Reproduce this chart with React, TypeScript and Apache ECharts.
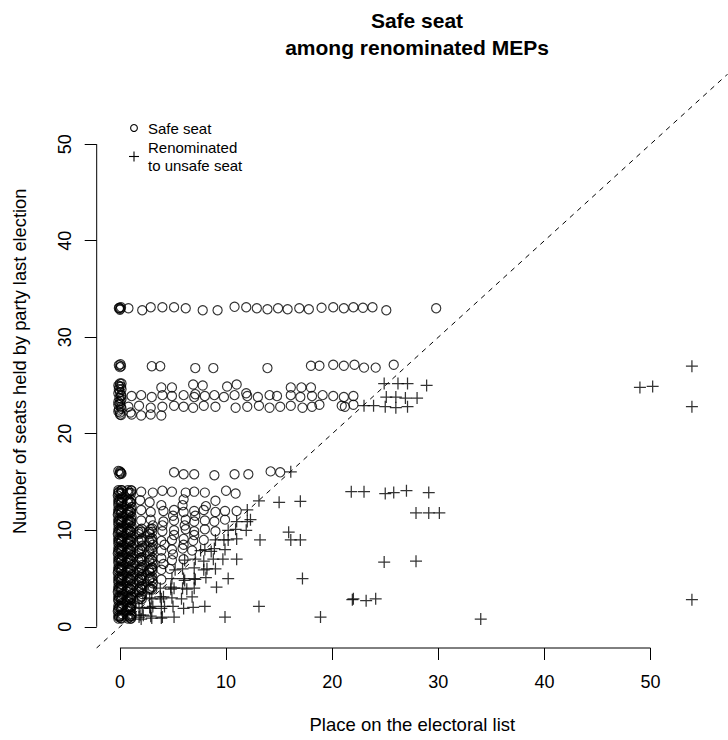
import React, { useEffect, useRef } from "react";
import * as echarts from "echarts";

// Axis ranges (R-style 4% padding around the data) and tick positions
const X_MIN = -2.19;
const X_MAX = 57.3;
const Y_MIN = -2.2;
const Y_MAX = 57.2;
const xTicks = [0, 10, 20, 30, 40, 50];
const yTicks = [0, 10, 20, 30, 40, 50];

const titleLines = ["Safe seat", "among renominated MEPs"];
const xTitle = "Place on the electoral list";
const yTitle = "Number of seats held by party last election";
const legendSafe = "Safe seat";
const legendUnsafe = ["Renominated", "to unsafe seat"];

// Safe seats: [place on list, seats held last election]
const safeRow33 = [
  [-0.1, 33.0], [0.0, 32.85], [0.1, 33.1], [0.05, 32.95], [-0.05, 33.05],
  [0.8, 33.0], [2.1, 32.8], [2.9, 33.1], [4.0, 33.1], [5.1, 33.1], [6.2, 33.0],
  [7.8, 32.8], [9.2, 32.8], [10.8, 33.15], [11.9, 33.1], [12.9, 33.0], [13.9, 32.9],
  [14.9, 33.0], [15.8, 32.9], [16.9, 33.0], [17.8, 32.9], [19.0, 33.05], [20.1, 33.1],
  [21.1, 33.0], [22.0, 33.1], [22.9, 33.05], [23.8, 33.1], [25.1, 32.8], [29.8, 33.0],
];

const safeRow27 = [
  [-0.1, 27.1], [0.0, 26.9], [0.1, 27.0], [0.05, 27.2], [3.0, 27.0], [3.8, 27.0],
  [7.1, 26.8], [8.8, 26.8], [13.9, 26.8], [18.0, 27.05], [18.8, 27.05], [20.1, 27.15],
  [21.1, 27.05], [22.1, 27.15], [23.0, 26.85], [24.1, 26.85], [25.8, 27.15],
];

const safeBand = [
  [0.0, 25.2], [0.1, 24.9], [-0.1, 24.6], [0.0, 24.3], [0.1, 24.0], [-0.05, 23.7],
  [0.05, 23.4], [0.0, 23.1], [0.1, 22.8], [-0.1, 22.5], [0.0, 22.2], [0.1, 21.95],
  [0.0, 22.0], [-0.05, 24.9], [0.15, 23.6], [-0.15, 23.0],
  [-0.15, 22.3], [0.15, 22.6], [-0.15, 23.3], [0.15, 23.9], [-0.15, 24.2], [0.15, 24.6],
  [-0.15, 25.0], [0.15, 25.2],
  [3.9, 24.8], [4.9, 24.8], [6.9, 25.1], [7.8, 25.0], [10.1, 24.9], [11.0, 25.1],
  [16.1, 24.8], [17.1, 24.8], [18.0, 24.8],
  [1.1, 23.9], [2.0, 24.0], [3.0, 23.8], [4.0, 24.0], [4.9, 23.9], [6.0, 24.0],
  [7.0, 23.8], [7.1, 24.1], [8.0, 23.9], [8.9, 24.0], [9.8, 23.8], [10.8, 24.0],
  [12.0, 23.9], [11.9, 24.2], [13.0, 23.8], [14.1, 24.0], [14.8, 23.9], [16.1, 24.0],
  [17.0, 23.8], [18.1, 23.9], [19.1, 24.0], [20.1, 23.9], [21.1, 23.8], [22.0, 23.9],
  [0.8, 22.8], [1.8, 22.9], [2.9, 22.7], [4.0, 22.8], [5.1, 22.9], [6.0, 22.8],
  [6.9, 22.7], [7.9, 22.9], [9.0, 22.8], [10.9, 22.7], [12.0, 22.8], [13.1, 22.9],
  [14.1, 22.7], [15.1, 22.8], [16.1, 22.9], [17.2, 22.7], [18.1, 22.8], [18.8, 23.0],
  [20.9, 22.9], [21.2, 22.8], [22.0, 23.0],
  [1.1, 22.0], [2.0, 21.9], [2.9, 22.0], [3.9, 21.9], [1.0, 22.2],
];

const safeRow16 = [
  [0.0, 16.1], [0.1, 15.9], [-0.05, 15.8], [0.05, 16.0], [-0.15, 16.15], [0.15, 15.85],
  [5.1, 16.0], [6.0, 15.8], [7.0, 15.8], [8.9, 15.7], [10.8, 15.8], [12.1, 15.8],
  [14.2, 16.1], [15.1, 16.0],
];

const safeLow = [
  [-0.1, 14.0], [0.05, 13.8], [0.15, 14.15], [0.9, 13.9], [1.1, 14.1], [2.0, 14.0],
  [3.1, 13.9], [4.0, 14.1], [4.9, 14.0], [6.2, 13.9], [7.0, 14.0], [8.0, 13.9],
  [10.0, 14.1], [10.9, 13.8],
  [-0.1, 13.0], [0.1, 12.9], [0.0, 13.15], [0.9, 13.0], [1.0, 12.85], [1.9, 13.1],
  [2.8, 12.9], [6.0, 13.2], [9.0, 13.05],
  [-0.1, 12.0], [0.1, 11.85], [0.0, 12.15], [0.9, 12.0], [1.0, 11.9], [2.0, 12.1],
  [2.9, 11.9], [4.1, 12.0], [5.1, 12.1], [6.0, 11.9], [7.0, 12.0], [7.9, 12.1],
  [9.0, 11.9], [9.9, 12.0], [11.0, 12.0],
  [-0.1, 11.0], [0.1, 10.9], [0.0, 11.1], [0.9, 11.0], [1.0, 10.85], [2.0, 11.0],
  [2.9, 11.1], [4.1, 10.9], [5.1, 11.0], [6.2, 11.1], [7.0, 10.9], [8.0, 11.0],
  [8.9, 10.9], [9.9, 11.1],
  [-0.1, 10.0], [0.1, 9.9], [0.0, 10.1], [0.9, 10.0], [1.0, 9.85], [1.9, 10.0],
  [2.9, 10.1], [4.0, 9.9], [5.1, 10.0], [6.2, 10.1], [7.0, 9.9], [8.0, 10.1], [9.0, 9.9],
  [-0.1, 9.0], [0.1, 8.9], [0.0, 9.1], [0.9, 9.0], [1.0, 8.85], [2.0, 9.0],
  [2.9, 9.1], [3.9, 8.9], [4.9, 9.0], [6.0, 9.1], [6.9, 8.9], [7.9, 9.0],
  [-0.1, 8.0], [0.1, 7.9], [0.0, 8.1], [0.9, 8.0], [1.0, 7.85], [1.9, 8.0],
  [2.9, 8.1], [3.9, 7.9], [4.9, 8.0], [5.9, 8.1], [6.8, 7.9],
  [-0.1, 7.0], [0.1, 6.9], [0.0, 7.1], [0.9, 7.0], [1.0, 6.85], [1.9, 7.1],
  [2.0, 6.9], [2.9, 7.0], [3.9, 7.1], [4.9, 6.9], [6.0, 7.0],
  [-0.1, 6.0], [0.1, 5.9], [0.0, 6.1], [0.9, 6.0], [1.0, 5.85], [2.0, 6.1],
  [1.9, 5.9], [2.9, 6.0], [3.0, 6.1], [3.9, 5.9], [4.7, 6.0],
  [-0.1, 5.0], [0.1, 4.9], [0.0, 5.1], [0.9, 5.0], [1.0, 4.85], [1.9, 5.1],
  [2.0, 4.9], [2.8, 5.0], [2.9, 5.1], [3.9, 4.9],
  [-0.1, 4.0], [0.1, 3.9], [0.0, 4.1], [0.9, 4.0], [1.0, 3.85], [1.9, 4.1],
  [2.0, 3.9], [2.8, 4.0], [2.9, 3.9],
  [-0.1, 3.0], [0.1, 2.9], [0.0, 3.1], [0.9, 3.0], [1.0, 2.85], [1.1, 3.1],
  [1.9, 2.9], [2.0, 3.1],
  [-0.1, 2.0], [0.1, 1.9], [0.0, 2.1], [0.9, 2.0], [1.0, 1.85], [1.1, 2.1], [0.95, 2.05],
  [-0.1, 1.0], [0.1, 0.9], [0.0, 1.1], [0.9, 1.0], [1.0, 0.85], [1.1, 1.1],
];

// Further safe seats piled up in the first few list places
const safeLowPile = [
  [0.2, 1.3], [-0.2, 1.6], [0.15, 2.4], [-0.15, 2.7], [0.2, 3.4], [-0.2, 3.6],
  [0.1, 4.4], [-0.15, 4.6], [0.2, 5.4], [-0.2, 5.6], [0.15, 6.4], [-0.15, 6.6],
  [0.2, 7.4], [-0.2, 7.6], [0.15, 8.4], [-0.15, 8.6], [0.2, 9.4], [-0.2, 9.6],
  [0.15, 10.4], [-0.15, 10.6], [0.2, 11.4], [-0.2, 11.6], [0.15, 12.4], [-0.15, 12.6],
  [0.2, 13.4], [-0.2, 13.6],
  [1.1, 1.3], [0.8, 1.6], [1.1, 2.4], [0.8, 2.6], [1.1, 3.4], [0.8, 3.6], [1.1, 4.4],
  [0.8, 4.6], [1.1, 5.4], [0.8, 5.6], [1.1, 6.4], [0.8, 6.6], [1.1, 7.4], [0.8, 7.6],
  [1.1, 8.4], [0.8, 8.6], [1.1, 9.4], [0.8, 9.6], [1.1, 10.4], [0.8, 10.6], [1.1, 11.4],
  [0.8, 11.6], [1.1, 12.4],
  [2.1, 3.4], [1.8, 3.6], [2.1, 4.4], [1.8, 4.6], [2.1, 5.4], [1.8, 5.6], [2.1, 6.4],
  [1.8, 7.6], [2.1, 8.4], [1.8, 9.6],
  [3.1, 4.5], [2.8, 5.6], [3.1, 6.5], [2.8, 7.5], [3.1, 8.5], [2.8, 9.6], [3.1, 10.5],
  [4.1, 6.5], [5.0, 7.5], [4.2, 8.5], [5.1, 9.5], [6.1, 10.5], [4.0, 10.5], [5.0, 11.5],
  [7.1, 11.5], [3.9, 12.6], [8.1, 12.5], [6.0, 8.5], [7.0, 9.5], [5.9, 12.6],
];

// Many MEPs share the top list places, so these positions are heavily overplotted
const safeTopPlaces = [
  [-0.15, 0.85], [0.15, 0.85], [-0.15, 1.15], [0.15, 1.15], [0.75, 0.85], [1.05, 0.85], [0.75, 1.15], [1.05, 1.15],
  [-0.15, 1.85], [0.15, 1.85], [-0.15, 2.15], [0.15, 2.15], [0.75, 1.85], [1.05, 1.85], [0.75, 2.15], [1.05, 2.15],
  [-0.15, 2.85], [0.15, 2.85], [-0.15, 3.15], [0.15, 3.15], [0.75, 2.85], [1.05, 2.85], [0.75, 3.15], [1.05, 3.15],
  [1.75, 2.85], [2.05, 3.15], [2.05, 2.85],
  [-0.15, 3.85], [0.15, 3.85], [-0.15, 4.15], [0.15, 4.15], [0.75, 3.85], [1.05, 3.85], [0.75, 4.15], [1.05, 4.15],
  [1.75, 3.85], [2.05, 4.15], [2.05, 3.85], [2.75, 3.85], [3.05, 4.15], [3.05, 3.85],
  [-0.15, 4.85], [0.15, 4.85], [-0.15, 5.15], [0.15, 5.15], [0.75, 4.85], [1.05, 4.85], [0.75, 5.15], [1.05, 5.15],
  [1.75, 4.85], [2.05, 5.15], [2.05, 4.85], [2.75, 4.85], [3.05, 5.15], [3.05, 4.85],
  [-0.15, 5.85], [0.15, 5.85], [-0.15, 6.15], [0.15, 6.15], [0.75, 5.85], [1.05, 5.85], [0.75, 6.15], [1.05, 6.15],
  [1.75, 5.85], [2.05, 6.15], [2.05, 5.85], [2.75, 5.85], [3.05, 6.15], [3.05, 5.85],
  [-0.15, 6.85], [0.15, 6.85], [-0.15, 7.15], [0.15, 7.15], [0.75, 6.85], [1.05, 6.85], [0.75, 7.15], [1.05, 7.15],
  [1.75, 6.85], [2.05, 7.15], [2.05, 6.85], [2.75, 6.85], [3.05, 7.15], [3.05, 6.85],
  [-0.15, 7.85], [0.15, 7.85], [-0.15, 8.15], [0.15, 8.15], [0.75, 7.85], [1.05, 7.85], [0.75, 8.15], [1.05, 8.15],
  [1.75, 7.85], [2.05, 8.15], [2.05, 7.85], [2.75, 7.85], [3.05, 8.15], [3.05, 7.85],
  [-0.15, 8.85], [0.15, 8.85], [-0.15, 9.15], [0.15, 9.15], [0.75, 8.85], [1.05, 8.85], [0.75, 9.15], [1.05, 9.15],
  [1.75, 8.85], [2.05, 9.15], [2.05, 8.85], [2.75, 8.85], [3.05, 9.15], [3.05, 8.85],
  [-0.15, 9.85], [0.15, 9.85], [-0.15, 10.15], [0.15, 10.15], [0.75, 9.85], [1.05, 9.85], [0.75, 10.15], [1.05, 10.15],
  [1.75, 9.85], [2.05, 10.15], [2.05, 9.85], [2.75, 9.85], [3.05, 10.15], [3.05, 9.85],
  [-0.15, 10.85], [0.15, 10.85], [-0.15, 11.15], [0.15, 11.15], [0.75, 10.85], [1.05, 10.85], [0.75, 11.15], [1.05, 11.15],
  [-0.15, 11.85], [0.15, 11.85], [-0.15, 12.15], [0.15, 12.15], [0.75, 11.85], [1.05, 11.85], [0.75, 12.15], [1.05, 12.15],
  [-0.15, 12.85], [0.15, 12.85], [-0.15, 13.15], [0.15, 13.15], [0.75, 12.85], [1.05, 12.85], [0.75, 13.15], [1.05, 13.15],
  [-0.15, 13.85], [0.15, 13.85], [-0.15, 14.15], [0.15, 14.15], [0.75, 13.85], [1.05, 13.85], [0.75, 14.15], [1.05, 14.15],
];

// Renominated to an unsafe seat
const unsafeBand = [
  [24.9, 25.2], [26.2, 25.2], [27.1, 25.2], [28.9, 25.0],
  [25.1, 23.8], [26.0, 23.8], [26.9, 23.7], [28.0, 23.7],
  [23.0, 22.9], [23.9, 22.9], [25.0, 22.8], [26.0, 22.7], [27.1, 22.8],
];

const unsafeMid = [
  [16.1, 16.05], [21.8, 14.0], [23.0, 14.0], [25.0, 13.8], [25.8, 13.9], [27.0, 14.1],
  [29.1, 13.9], [27.9, 11.8], [29.1, 11.8], [30.1, 11.8], [13.1, 13.05], [15.0, 12.9],
  [17.0, 13.0], [12.0, 12.1], [12.3, 11.1], [11.0, 10.9], [10.2, 10.0], [15.9, 9.8],
  [16.1, 9.0], [17.0, 9.0], [13.2, 9.0], [11.0, 9.1], [10.2, 9.0], [9.0, 9.0],
  [8.0, 8.0], [7.6, 7.9], [8.6, 7.8], [7.1, 7.0], [8.8, 7.0], [9.7, 7.0], [11.0, 7.0],
  [24.9, 6.7], [27.9, 6.8], [9.9, 8.0], [8.9, 8.1], [9.8, 9.0], [11.9, 10.0],
  [10.9, 10.1], [12.0, 10.9],
];

const unsafeLow = [
  [5.9, 6.0], [7.0, 6.1], [7.9, 5.9], [4.9, 5.0], [6.0, 5.0], [7.1, 4.9], [10.2, 5.0],
  [17.2, 5.0], [3.8, 4.0], [4.8, 4.1], [5.9, 4.0], [7.0, 4.0], [9.1, 4.1], [2.8, 3.0],
  [3.9, 2.9], [4.9, 3.0], [22.0, 2.9], [21.9, 2.8], [23.2, 2.7], [24.1, 2.9], [1.8, 2.0],
  [2.8, 2.0], [3.9, 1.9], [5.0, 2.1], [8.0, 2.1], [13.1, 2.1], [1.8, 1.0], [3.0, 0.9],
  [4.0, 1.0], [9.9, 1.0], [18.9, 1.0],
  [2.2, 1.2], [2.9, 1.1], [3.9, 0.9], [5.1, 1.0], [6.0, 1.9], [6.9, 2.0], [4.2, 2.1],
  [3.1, 2.1], [5.8, 2.9], [6.8, 3.1], [4.1, 3.1], [4.8, 3.9], [6.1, 4.8], [5.2, 5.9],
  [6.1, 6.9], [7.9, 6.8], [8.2, 6.0], [6.3, 3.9], [8.1, 5.1], [9.0, 6.0], [7.0, 5.0],
  [3.0, 2.9], [2.1, 1.9], [2.0, 0.8], [1.9, 1.2], [2.9, 1.9], [3.8, 3.1], [5.1, 4.0],
];

const unsafeFar = [
  [49.0, 24.8], [50.2, 24.9], [53.9, 27.0], [53.9, 22.8], [53.9, 2.8], [34.0, 0.8],
];

// y = x reference line, clipped by the grid
const diagonal = [[-5, -5], [60, 60]];

const FONT = "'Liberation Sans', Arial, Helvetica, sans-serif";
const PLUS = "path://M0,5H10M5,0V10";

export default function App() {
  const ref = useRef<HTMLDivElement>(null);

  useEffect(() => {
    const chart = echarts.init(ref.current!, null, { renderer: "svg" });
    const axisTick = (vals: number[]) => ({
      show: true,
      inside: false,
      length: 12,
      customValues: vals,
      lineStyle: { color: "#000", width: 1 },
    });
    const label = (text: string, x: number, y: number, font: string, align = "left") => ({
      type: "text",
      x,
      y,
      style: { text, font, fill: "#000", textAlign: align, textVerticalAlign: "middle" },
    });

    chart.setOption({
      animation: false,
      backgroundColor: "#fff",
      grid: { left: 96.7, top: 74.7, width: 640.3, height: 573.3, containLabel: false },
      xAxis: {
        type: "value",
        min: X_MIN,
        max: X_MAX,
        splitLine: { show: false },
        axisLine: { show: false, onZero: false },
        axisTick: axisTick(xTicks),
        axisLabel: {
          customValues: xTicks,
          margin: 25,
          fontSize: 18,
          color: "#000",
          fontFamily: FONT,
        },
        name: xTitle,
        nameLocation: "middle",
        nameGap: 67,
        nameTextStyle: { fontSize: 18.5, color: "#000", fontFamily: FONT },
      },
      yAxis: {
        type: "value",
        min: Y_MIN,
        max: Y_MAX,
        splitLine: { show: false },
        axisLine: { show: false, onZero: false },
        axisTick: axisTick(yTicks),
        axisLabel: {
          customValues: yTicks,
          rotate: 90,
          margin: 23,
          fontSize: 18,
          color: "#000",
          fontFamily: FONT,
        },
        name: yTitle,
        nameLocation: "middle",
        nameGap: 68,
        nameTextStyle: { fontSize: 18.3, color: "#000", fontFamily: FONT },
      },
      graphic: [
        label(titleLines[0], 417, 20, `bold 21px ${FONT}`, "center"),
        label(titleLines[1], 417, 47, `bold 21px ${FONT}`, "center"),
        {
          type: "circle",
          shape: { cx: 134, cy: 128, r: 3.4 },
          style: { fill: "none", stroke: "#000", lineWidth: 1.1 },
        },
        label(legendSafe, 148, 128, `15px ${FONT}`),
        {
          type: "line",
          shape: { x1: 129, y1: 156.5, x2: 139, y2: 156.5 },
          style: { stroke: "#000", lineWidth: 1.1 },
        },
        {
          type: "line",
          shape: { x1: 134, y1: 151.5, x2: 134, y2: 161.5 },
          style: { stroke: "#000", lineWidth: 1.1 },
        },
        label(legendUnsafe[0], 148, 147, `15px ${FONT}`),
        label(legendUnsafe[1], 148, 165, `15px ${FONT}`),
      ],
      series: [
        {
          type: "line",
          data: [[0, Y_MIN], [50, Y_MIN]],
          symbol: "none",
          clip: false,
          silent: true,
          lineStyle: { color: "#000", width: 1 },
        },
        {
          type: "line",
          data: [[X_MIN, 0], [X_MIN, 50]],
          symbol: "none",
          clip: false,
          silent: true,
          lineStyle: { color: "#000", width: 1 },
        },
        {
          type: "line",
          data: diagonal,
          symbol: "none",
          clip: true,
          silent: true,
          lineStyle: { color: "#000", width: 1, type: [5, 5] },
        },
        {
          name: "Safe seat",
          type: "scatter",
          data: [
            ...safeRow33,
            ...safeRow27,
            ...safeBand,
            ...safeRow16,
            ...safeLow,
            ...safeLowPile,
            ...safeTopPlaces,
          ],
          symbol: "circle",
          symbolSize: 9.2,
          itemStyle: { color: "rgba(0,0,0,0)", borderColor: "#000", borderWidth: 1.15 },
        },
        {
          name: "Renominated to unsafe seat",
          type: "scatter",
          data: [...unsafeBand, ...unsafeMid, ...unsafeLow, ...unsafeFar],
          symbol: PLUS,
          symbolSize: 12,
          itemStyle: { color: "rgba(0,0,0,0)", borderColor: "#000", borderWidth: 1.25 },
        },
      ],
    });
    return () => chart.dispose();
  }, []);

  return (
    <div
      ref={ref}
      style={{ position: "fixed", left: 0, top: 0, width: 728, height: 740, background: "#fff" }}
    />
  );
}
